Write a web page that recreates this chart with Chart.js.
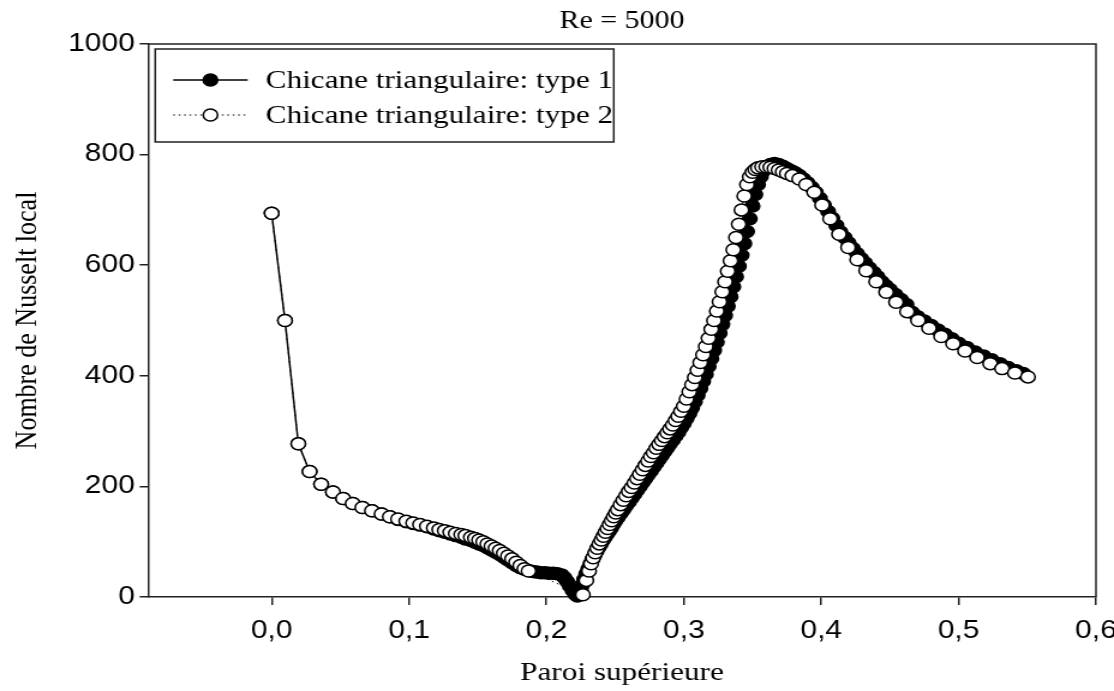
<!DOCTYPE html>
<html><head><meta charset="utf-8">
<script src="https://cdn.jsdelivr.net/npm/chart.js@4.4.1/dist/chart.umd.min.js"></script>
<style>html,body{margin:0;padding:0;background:#fff;overflow:hidden}canvas{display:block}</style>
</head><body>
<canvas id="c" width="928" height="691" style="width:1114px;height:691px"></canvas>
<script>
const chartTitle = 'Re = 5000';
const xAxisTitle = 'Paroi supérieure';
const yAxisTitle = 'Nombre de Nusselt local';
const seriesNames = ['Chicane triangulaire: type 1', 'Chicane triangulaire: type 2'];
const xTickValues = [0, 0.1, 0.2, 0.3, 0.4, 0.5, 0.6];
const xTickLabels = ['0,0', '0,1', '0,2', '0,3', '0,4', '0,5', '0,6'];
const yTickValues = [0, 200, 400, 600, 800, 1000];
const yTickLabels = ['0', '200', '400', '600', '800', '1000'];

const type1X = [0.000,0.0097,0.0194,0.0276,0.036,0.0446,0.052,0.059,0.066,0.073,0.080,0.086,0.092,0.098,0.103,0.108,0.113,0.118,0.122,0.126,0.130,0.134,0.138,0.141,0.145,0.148,0.151,0.154,0.157,0.160,0.163,0.166,0.169,0.172,0.175,0.178,0.181,0.184,0.187,0.190,0.193,0.196,0.199,0.202,0.205,0.208,0.211,0.213,0.215,0.217,0.219,0.221,0.2225,
0.224,0.225,0.226,0.2275,0.229,0.2305,0.232,0.2335,0.235,0.2365,0.238,0.2395,0.241,0.2425,0.244,0.2455,0.247,0.2485,0.250,0.252,0.254,0.256,0.258,0.260,0.262,0.264,0.266,0.268,0.270,0.272,0.274,0.276,0.278,0.280,0.282,0.284,0.286,0.288,0.290,0.292,0.294,0.296,0.298,0.300,0.302,0.304,0.306,0.308,0.310,0.312,0.314,0.316,0.318,0.320,0.322,0.324,0.326,0.328,0.330,0.332,0.334,0.336,0.338,0.340,0.342,0.344,0.346,0.348,0.350,0.352,0.354,0.356,0.358,0.360,0.363,0.366,
0.369,0.372,0.375,0.378,0.381,0.384,0.387,0.390,0.393,0.396,0.399,0.402,0.405,0.408,0.411,0.414,0.417,0.420,0.423,0.426,0.429,0.432,0.435,0.438,0.441,0.444,0.447,0.450,0.454,0.458,0.462,0.466,0.470,0.475,0.480,0.485,0.490,0.495,0.500,0.506,0.512,0.518,0.524,0.530,0.536,0.542,0.547];
const type1Y = [694,500,277,227,204,190,178,169,162,156,150,145,140,136,133,130,127,123,120,117,114,111,108,105,102,99,96,93,89,85,81,77,72,67,62,57,53,50,48,46,45,44,44,43,43,42,40,35,28,20,12,5,2,
8,14,22,32,42,51,60,68,76,83,90,96,102,108,114,119,125,131,137,144,151,158,165,172,179,186,193,200,207,214,221,228,235,242,249,256,263,270,277,284,291,298,306,314,323,332,342,353,365,377,390,403,417,431,446,461,477,493,509,526,543,561,579,598,618,639,661,684,707,728,746,760,771,778,782,784,
782,779,775,771,767,762,756,749,741,732,721,709,697,685,672,660,650,640,630,621,612,604,595,587,579,570,563,556,547,538,529,515,507,499,491,483,475,467,459,451,443,436,429,422,415,409,404];

const type2X = [0.000,0.0097,0.0194,0.0276,0.036,0.0446,0.052,0.059,0.066,0.073,0.080,0.086,0.092,0.098,0.103,0.108,0.113,0.118,0.122,0.126,0.130,0.134,0.138,0.141,0.145,0.148,0.151,0.154,0.157,0.160,0.163,0.166,0.169,0.172,0.175,0.178,0.181,0.184,0.187,
0.2265,0.229,0.231,0.2325,0.234,0.2355,0.237,0.2385,0.240,0.2415,0.243,0.2445,0.246,0.2475,0.249,0.2505,0.252,0.254,0.256,0.258,0.260,0.262,0.264,0.266,0.268,0.270,0.272,0.274,0.276,0.278,0.280,0.282,0.284,0.286,0.288,0.290,0.292,0.294,0.296,0.298,0.300,0.302,0.304,0.306,0.308,0.310,0.312,0.314,0.316,0.318,0.320,0.322,0.324,0.326,0.328,0.330,0.332,0.334,0.336,0.338,0.340,0.342,0.344,0.346,0.348,0.350,0.352,0.354,0.357,0.360,0.363,0.366,0.369,0.372,0.375,
0.379,0.384,0.389,0.3949,0.4007,0.4065,0.413,0.4196,0.4262,0.4327,0.440,0.4473,0.4545,0.4625,0.4705,0.4785,0.4873,0.496,0.5047,0.5135,0.523,0.5316,0.541,0.5505];
const type2Y = [694,500,277,227,204,190,178,169,162,156,150,145,141,137,134,131,128,125,122,120,117,115,113,111,108,106,103,100,96,92,88,84,79,74,69,63,57,51,47,
4,30,47,60,71,80,88,96,103,110,117,124,131,138,145,152,158,167,175,183,191,198,206,214,222,230,238,246,254,261,269,276,283,290,297,304,311,319,327,336,345,358,371,384,397,410,424,438,453,468,484,500,517,534,552,570,589,608,628,650,674,700,725,746,760,768,773,776,778,778,777,775,772,769,766,
762,756,746,732,709,684,656,632,610,590,570,551,533,516,500,486,471,458,445,433,422,413,405,398];

const SERIF = "'Liberation Serif', 'Times New Roman', serif";
const SANS = "'Liberation Sans', Arial, sans-serif";

function pts(xs, ys) { return xs.map((x, i) => ({ x: x, y: ys[i] })); }

const framePlugin = {
  id: 'frame',
  beforeDatasetsDraw(chart) {
    const { ctx, chartArea: a } = chart;
    ctx.save();
    ctx.strokeStyle = '#222';
    ctx.lineWidth = 1.5;
    ctx.beginPath();
    ctx.moveTo(a.left, a.top);
    ctx.lineTo(a.right, a.top);
    ctx.lineTo(a.right, a.bottom);
    ctx.stroke();
    ctx.restore();
  }
};

const legendPlugin = {
  id: 'boxLegend',
  afterDraw(chart) {
    const { ctx, chartArea: a } = chart;
    const bx = a.left + 6, by = a.top + 5, bw = 382, bh = 93;
    ctx.save();
    ctx.fillStyle = '#fff';
    ctx.fillRect(bx, by, bw, bh);
    ctx.strokeStyle = '#222';
    ctx.lineWidth = 1.5;
    ctx.strokeRect(bx, by, bw, bh);
    const rowsY = [by + 31, by + 66];
    chart.data.datasets.forEach((ds, i) => {
      const y = rowsY[i];
      ctx.save();
      ctx.strokeStyle = ds.borderColor;
      ctx.lineWidth = ds.borderWidth;
      ctx.setLineDash(ds.borderDash || []);
      ctx.beginPath();
      ctx.moveTo(bx + 15, y);
      ctx.lineTo(bx + 77, y);
      ctx.stroke();
      ctx.restore();
      ctx.beginPath();
      ctx.arc(bx + 46, y, ds.pointRadius, 0, Math.PI * 2);
      ctx.fillStyle = ds.pointBackgroundColor;
      ctx.fill();
      ctx.lineWidth = ds.pointBorderWidth;
      ctx.strokeStyle = ds.pointBorderColor;
      ctx.stroke();
      ctx.fillStyle = '#000';
      ctx.font = '26px ' + SERIF;
      ctx.textBaseline = 'middle';
      ctx.textAlign = 'left';
      ctx.fillText(ds.label, bx + 92, y + 1);
    });
    ctx.restore();
  }
};

new Chart(document.getElementById('c'), {
  type: 'line',
  data: {
    datasets: [
      {
        label: seriesNames[0], data: pts(type1X, type1Y), order: 2,
        borderColor: '#000', borderWidth: 1.5, tension: 0,
        pointRadius: 6, pointHoverRadius: 6, pointBorderWidth: 1.5,
        pointBackgroundColor: '#000', pointBorderColor: '#000', clip: false
      },
      {
        label: seriesNames[1], data: pts(type2X, type2Y), order: 1,
        borderColor: '#000', borderWidth: 1, borderDash: [1.5, 3], tension: 0,
        pointRadius: 6, pointHoverRadius: 6, pointBorderWidth: 1.5,
        pointBackgroundColor: '#fff', pointBorderColor: '#000', clip: false
      }
    ]
  },
  options: {
    responsive: false,
    devicePixelRatio: 1,
    animation: false,
    events: [],
    layout: { padding: { left: 0, right: 15, top: 0, bottom: 0 } },
    plugins: {
      legend: { display: false },
      tooltip: { enabled: false },
      title: {
        display: true, text: chartTitle, fullSize: false, color: '#000',
        font: { family: SERIF, size: 25, weight: 'normal' },
        padding: { top: 6, bottom: 8 }
      }
    },
    scales: {
      x: {
        type: 'linear', min: -0.09, max: 0.6,
        afterBuildTicks: s => { s.ticks = xTickValues.map(v => ({ value: v })); },
        afterFit: s => { s.height = 94; s.paddingLeft = 0; s.paddingRight = 0; },
        ticks: {
          callback: (v, i) => xTickLabels[i],
          font: { family: SANS, size: 25 }, color: '#000', padding: 11,
          maxRotation: 0, autoSkip: false
        },
        grid: { display: true, drawOnChartArea: false, drawTicks: true, tickLength: 8, color: '#222', lineWidth: 1.5 },
        border: { display: true, color: '#222', width: 1.5 },
        title: { display: true, text: xAxisTitle, color: '#000', font: { family: SERIF, size: 26 }, padding: { top: 0, bottom: 2 } }
      },
      y: {
        type: 'linear', min: 0, max: 1000,
        afterBuildTicks: s => { s.ticks = yTickValues.map(v => ({ value: v })); },
        afterFit: s => { s.width = 123.3; s.paddingTop = 0; s.paddingBottom = 0; },
        ticks: {
          callback: (v, i) => yTickLabels[i],
          font: { family: SANS, size: 25 }, color: '#000', padding: 4, autoSkip: false
        },
        grid: { display: true, drawOnChartArea: false, drawTicks: true, tickLength: 7, color: '#222', lineWidth: 1.5 },
        border: { display: true, color: '#222', width: 1.5 },
        title: { display: true, text: yAxisTitle, color: '#000', font: { family: SERIF, size: 26 }, padding: { top: 7.5, bottom: 0 } }
      }
    }
  },
  plugins: [framePlugin, legendPlugin]
});
</script>
</body></html>
